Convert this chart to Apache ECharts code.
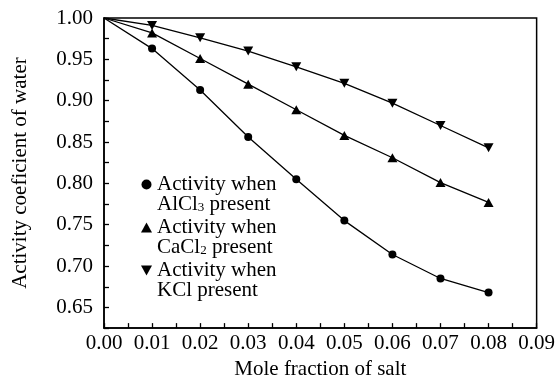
<!DOCTYPE html>
<html>
<head>
<meta charset="utf-8">
<script src="https://cdn.jsdelivr.net/npm/echarts@6/dist/echarts.min.js"></script>
<style>
  html, body { margin: 0; padding: 0; background: #fff; }
  #main { width: 558px; height: 385px; }
</style>
</head>
<body>
<div id="main"></div>
<script>
// Mole fraction of salt (x values)
const moleFraction = [0.00, 0.01, 0.02, 0.03, 0.04, 0.05, 0.06, 0.07, 0.08];

// Activity coefficient of water
const alcl3Values = [1.000, 0.963, 0.913, 0.856, 0.805, 0.755, 0.714, 0.685, 0.668];
const cacl2Values = [1.000, 0.982, 0.951, 0.920, 0.889, 0.858, 0.831, 0.801, 0.777];
const kclValues   = [1.000, 0.991, 0.976, 0.960, 0.941, 0.921, 0.897, 0.870, 0.843];

// Legend pieces: salt formula base and subscript
const seriesNames = ['AlCl3', 'CaCl2', 'KCl'];
const saltBase = ['AlCl', 'CaCl', 'KCl'];
const saltSub = ['3', '2', ''];

const FONT = 'Liberation Serif';
const FS = 21;
const downTriangle = 'path://M0,0 L10,0 L5,9 Z';

var chartDom = document.getElementById('main');
var myChart = echarts.init(chartDom, null, { renderer: 'canvas' });

// first point (pure water) is drawn without a marker
function pairs(values) {
    return values.map(function (v, i) {
        if (i === 0) {
            return { value: [moleFraction[i], v], symbol: 'none' };
        }
        return [moleFraction[i], v];
    });
}

function makeSeries(name, values, symbol, size) {
    return {
        name: name,
        type: 'line',
        data: pairs(values),
        symbol: symbol,
        symbolSize: size,
        showAllSymbol: true,
        lineStyle: { color: '#000', width: 1.3 },
        itemStyle: { color: '#000' },
        emphasis: { disabled: true },
        animation: false
    };
}

const option = {
    backgroundColor: '#fff',
    textStyle: { fontFamily: FONT, color: '#000' },
    grid: {
        left: 104,
        right: 18,
        top: 18,
        bottom: 52,
        show: true,
        borderColor: '#000',
        borderWidth: 1.5
    },
    legend: {
        orient: 'vertical',
        left: 141,
        top: 154,
        padding: 0,
        itemGap: -18,
        itemWidth: 11,
        itemHeight: 10,
        selectedMode: false,
        data: [
            { name: seriesNames[0], icon: 'circle' },
            { name: seriesNames[1], icon: 'triangle' },
            { name: seriesNames[2], icon: downTriangle }
        ],
        formatter: function (name) {
            var i = seriesNames.indexOf(name);
            var second = '{a|' + saltBase[i] + '}';
            if (saltSub[i]) {
                second += '{s|' + saltSub[i] + '}';
            }
            second += '{a| present}';
            return '{e| }\n{a|Activity when}\n' + second;
        },
        textStyle: {
            fontFamily: FONT,
            color: '#000',
            rich: {
                e: { fontSize: FS, lineHeight: 20, fontFamily: FONT },
                a: { fontSize: FS, lineHeight: 20, fontFamily: FONT, color: '#000' },
                // subscript: small, pushed toward the bottom of the line
                s: { fontSize: 13, lineHeight: 8, fontFamily: FONT, color: '#000', verticalAlign: 'bottom' }
            }
        }
    },
    xAxis: {
        type: 'value',
        min: 0,
        max: 0.09,
        interval: 0.005,
        name: 'Mole fraction of salt',
        nameLocation: 'middle',
        nameGap: 29,
        nameTextStyle: { fontFamily: FONT, fontSize: FS, color: '#000' },
        axisLine: { lineStyle: { color: '#000', width: 1.5 } },
        axisTick: { inside: true, length: 5, lineStyle: { color: '#000', width: 1.3 } },
        axisLabel: {
            fontFamily: FONT,
            fontSize: FS,
            color: '#000',
            margin: 5,
            formatter: function (v) {
                var k = v * 100;
                return Math.abs(k - Math.round(k)) < 1e-6 ? v.toFixed(2) : '';
            }
        },
        splitLine: { show: false }
    },
    yAxis: {
        type: 'value',
        min: 0.625,
        max: 1.0,
        interval: 0.025,
        name: 'Activity coeficient of water',
        nameLocation: 'middle',
        nameGap: 73,
        nameTextStyle: { fontFamily: FONT, fontSize: FS, color: '#000' },
        axisLine: { lineStyle: { color: '#000', width: 1.5 } },
        axisTick: { inside: true, length: 5, lineStyle: { color: '#000', width: 1.3 } },
        axisLabel: {
            fontFamily: FONT,
            fontSize: FS,
            color: '#000',
            margin: 11,
            formatter: function (v) {
                var k = Math.round(v * 1000);
                return k % 50 === 0 ? v.toFixed(2) : '';
            }
        },
        splitLine: { show: false }
    },
    series: [
        makeSeries(seriesNames[0], alcl3Values, 'circle', 8),
        makeSeries(seriesNames[1], cacl2Values, 'triangle', [10, 9]),
        makeSeries(seriesNames[2], kclValues, downTriangle, [10, 9])
    ]
};

option && myChart.setOption(option);
</script>
</body>
</html>
